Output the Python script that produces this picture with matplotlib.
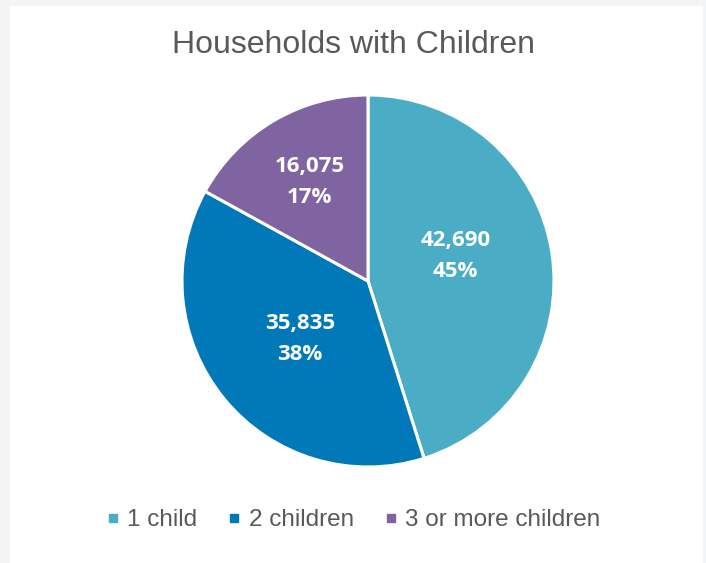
import numpy as np
import matplotlib

matplotlib.use("Agg")
import matplotlib.pyplot as plt
from matplotlib.lines import Line2D
from matplotlib.patches import Rectangle

categories = ["1 child", "2 children", "3 or more children"]
households = [42690, 35835, 16075]
colors = ["#4BACC6", "#0179B8", "#8064A2"]
label_dist = [0.49, 0.48, 0.62]
label_turn = [7, 1, 0]  # degrees, nudges labels like Excel's best fit

TITLE = "Households with Children"
TEXT_GRAY = "#595959"

W, H = 706, 563
fig = plt.figure(figsize=(W / 100, H / 100), dpi=100, facecolor="#F3F4F6")
fig.patches.append(Rectangle((10 / W, 0), 693 / W, (H - 6) / H, transform=fig.transFigure,
                             facecolor="white", edgecolor="none", zorder=-5))

# pie centre (368, 281) px, radius 186 px
cx, cy, r = 368, 281, 186
ax = fig.add_axes([(cx - r) / W, (H - cy - r) / H, 2 * r / W, 2 * r / H])
ax.set_aspect("equal")
ax.set_zorder(2)

wedges, _ = ax.pie(households, colors=colors, startangle=90, counterclock=False, radius=1,
                   wedgeprops=dict(edgecolor="white", linewidth=2.2))
ax.set_xlim(-1, 1)
ax.set_ylim(-1, 1)

total = sum(households)
for w, v, d, t in zip(wedges, households, label_dist, label_turn):
    ang = np.deg2rad((w.theta1 + w.theta2) / 2 + t)
    ax.text(d * np.cos(ang), d * np.sin(ang), f"{v:,}\n{v / total:.0%}", ha="center", va="center",
            color="white", fontsize=16, fontweight="bold", family="Open Sans", linespacing=1.65)

fig.text(0.5, 1 - 45 / H, TITLE, ha="center", va="center", fontsize=23,
         color=TEXT_GRAY, family="Liberation Sans")

handles = [Line2D([], [], marker="s", linestyle="none", markersize=6, color=c) for c in colors]
fig.legend(handles, categories, loc="center", bbox_to_anchor=(0.5, 43 / H), ncol=3, frameon=False,
           prop=dict(family="Liberation Sans", size=17.5), labelcolor=TEXT_GRAY,
           handlelength=0.6, handletextpad=0.28, columnspacing=1.22)

fig.savefig("out.png", dpi=100, facecolor=fig.get_facecolor())
